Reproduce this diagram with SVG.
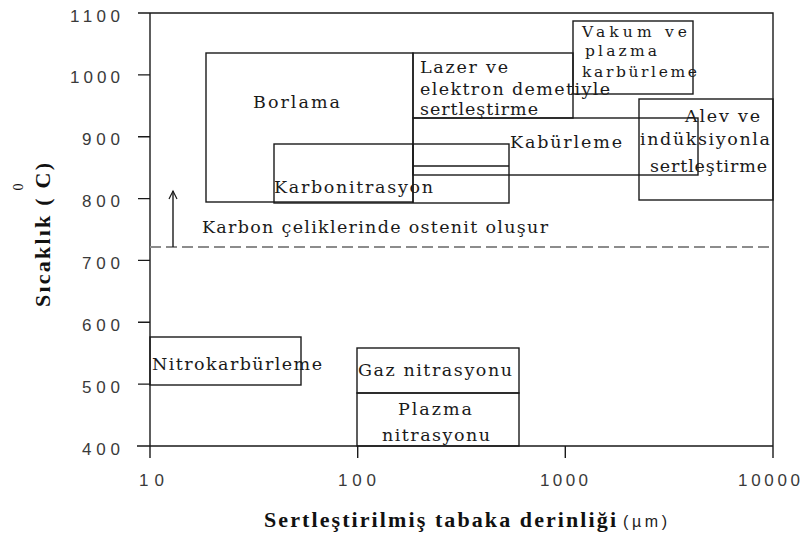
<svg xmlns="http://www.w3.org/2000/svg" width="810" height="536" viewBox="0 0 810 536">
<defs>
<style>
.ax{stroke:#1a1a1a;stroke-width:1.4;fill:none}
.bx{stroke:#1a1a1a;stroke-width:1.4;fill:none}
.tk{font-family:"Liberation Sans",Arial,sans-serif;font-size:17px;fill:#3a3a3a}
.lb{font-family:"DejaVu Serif","Liberation Serif",serif;font-size:17.5px;fill:#1a1a1a}
.sm{font-size:15.5px}
.ttl{font-family:"Liberation Serif","Times New Roman",serif;font-size:22px;font-weight:bold;fill:#111}
.dash{stroke:#8c8c8c;stroke-width:2;stroke-dasharray:11 5;fill:none}
</style>
<marker id="arr" viewBox="0 0 12 12" refX="10" refY="6" markerWidth="12" markerHeight="12" markerUnits="userSpaceOnUse" orient="auto">
<path d="M2,2 L10,6 L2,10" fill="none" stroke="#1a1a1a" stroke-width="1.2"/>
</marker>
</defs>
<rect width="810" height="536" fill="#fff"/>

<g id="axes">
<path class="ax" d="M150,13 H773 V446 M150,13 V458 M137,446 H773"/>
<path class="ax" d="M138,13 H150 M138,74.9 H150 M138,136.7 H150 M138,198.6 H150 M138,260.4 H150 M138,322.3 H150 M138,384.1 H150"/>
<path class="ax" d="M357.7,446 V458 M565.3,446 V458 M773,446 V458"/>
<g class="tk">
<text x="70" y="22" textLength="50">1100</text>
<text x="70" y="83" textLength="50">1000</text>
<text x="82" y="145" textLength="38">900</text>
<text x="82" y="207" textLength="38">800</text>
<text x="82" y="269" textLength="38">700</text>
<text x="82" y="331" textLength="38">600</text>
<text x="82" y="393" textLength="38">500</text>
<text x="82" y="455" textLength="38">400</text>
<text x="139" y="486" textLength="25">10</text>
<text x="338" y="486" textLength="38">100</text>
<text x="540" y="486" textLength="48">1000</text>
<text x="738" y="486" textLength="62">10000</text>
</g>
<text class="ttl" x="264" y="527" textLength="352" lengthAdjust="spacing">Sertleştirilmiş tabaka derinliği</text>
<text x="623" y="527" font-family="'Liberation Sans',Arial,sans-serif" font-size="16" fill="#222" textLength="44">(µm)</text>
<text class="ttl" transform="translate(50,307) rotate(-90)" x="0" y="0" textLength="144">Sıcaklık ( C)</text>
<text transform="translate(23,187) rotate(-90)" x="0" y="0" text-anchor="middle" font-family="'Liberation Serif',serif" font-size="14" fill="#111">0</text>
</g>

<g id="connectors">
<line class="dash" x1="150" y1="247" x2="773" y2="247"/>
<line x1="173" y1="247" x2="173" y2="191" stroke="#1a1a1a" stroke-width="1.4" marker-end="url(#arr)"/>
<text class="lb" x="202" y="233" textLength="346">Karbon çeliklerinde ostenit oluşur</text>
</g>

<g id="borlama">
<rect class="bx" x="206" y="53" width="207" height="149"/>
<text class="lb" x="253" y="108" textLength="87">Borlama</text>
</g>

<g id="lazer">
<rect class="bx" x="413" y="53" width="160" height="65"/>
<text class="lb" x="420" y="73" textLength="88">Lazer ve</text>
<text class="lb" x="420" y="95" textLength="190">elektron demetiyle</text>
<text class="lb" x="420" y="115" textLength="118">sertleştirme</text>
</g>

<g id="vakum">
<rect class="bx" x="573" y="21" width="120" height="73"/>
<text class="lb sm" x="582" y="37" textLength="105">Vakum ve</text>
<text class="lb sm" x="585" y="56" textLength="72">plazma</text>
<text class="lb sm" x="582" y="77" textLength="115">karbürleme</text>
</g>

<g id="kaburleme">
<rect class="bx" x="413" y="118" width="285" height="57"/>
<text class="lb" x="510" y="148" textLength="112">Kabürleme</text>
</g>

<g id="alev">
<rect class="bx" x="639" y="99" width="134" height="101"/>
<text class="lb" x="685" y="122" textLength="75">Alev ve</text>
<text class="lb" x="640" y="145" textLength="130">indüksiyonla</text>
<text class="lb" x="650" y="172" textLength="117">sertleştirme</text>
</g>

<g id="karbonitrasyon">
<rect class="bx" x="274" y="144" width="235" height="59"/>
<line class="bx" x1="413" y1="166" x2="509" y2="166"/>
<line class="bx" x1="413" y1="144" x2="413" y2="203"/>
<text class="lb" x="274" y="193" textLength="159">Karbonitrasyon</text>
</g>

<g id="nitrokarburleme">
<rect class="bx" x="150" y="337" width="151" height="48"/>
<text class="lb" x="152" y="370" textLength="170">Nitrokarbürleme</text>
</g>

<g id="gaz-nitrasyonu">
<rect class="bx" x="357" y="348" width="162" height="45"/>
<text class="lb" x="358" y="376" textLength="154">Gaz nitrasyonu</text>
</g>

<g id="plazma-nitrasyonu">
<rect class="bx" x="357" y="393" width="162" height="53"/>
<text class="lb" x="398" y="415" textLength="74">Plazma</text>
<text class="lb" x="382" y="441" textLength="108">nitrasyonu</text>
</g>
</svg>
